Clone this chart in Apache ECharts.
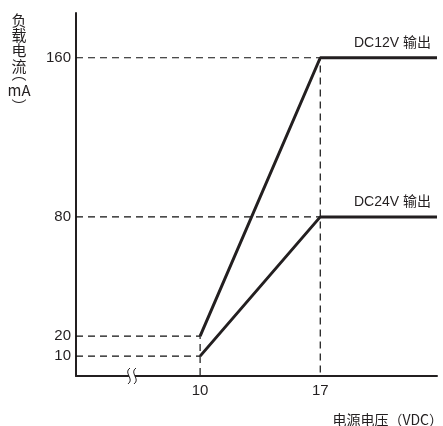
<!DOCTYPE html>
<html>
<head>
<meta charset="utf-8">
<script src="https://cdn.jsdelivr.net/npm/echarts@6/dist/echarts.min.js"></script>
<style>
  html, body { margin: 0; padding: 0; background: #fff; }
  #chart { width: 443px; height: 426px; }
</style>
</head>
<body>
<div id="chart"></div>
<script>
// data
const dc12Voltage = [10, 17, 23.8];
const dc12Current = [20, 160, 160];
const dc24Voltage = [10, 17, 23.8];
const dc24Current = [10, 80, 80];
const xTicks = [10, 17];
const yTicks = [10, 20, 80, 160];
const seriesNames = ['DC12V 输出', 'DC24V 输出'];

// dashed guide lines: [x, y] pairs
const guides = [
  [[2.77, 160], [17, 160], [17, 0]],
  [[2.77, 80], [17, 80]],
  [[2.77, 20], [10, 20], [10, 0]],
  [[2.77, 10], [10, 10]]
];

const ink = '#231f20';
const latin = 'Liberation Sans';
const cjk = 'Noto Sans CJK SC';

const chart = echarts.init(document.getElementById('chart'));

function pairs(xs, ys) {
  return xs.map((x, i) => [x, ys[i]]);
}

const guideSeries = guides.map(g => ({
  type: 'line',
  data: g,
  symbol: 'none',
  silent: true,
  z: 1,
  lineStyle: { color: '#111', width: 1.2, type: [7, 5] }
}));

function mainSeries(name, xs, ys) {
  return {
    type: 'line',
    name: name,
    data: pairs(xs, ys),
    symbol: 'none',
    z: 3,
    clip: false,
    lineStyle: { color: ink, width: 3 },
    endLabel: {
      show: true, formatter: name, color: ink, fontSize: 14,
      fontFamily: latin + ', ' + cjk,
      align: 'right', verticalAlign: 'bottom', offset: [-14, -8]
    }
  };
}

chart.setOption({
  animation: false,
  grid: { left: 76, top: 13, right: 6, bottom: 50, outerBoundsMode: 'none', containLabel: false },
  xAxis: {
    type: 'value',
    min: 2.77,
    max: 23.8,
    splitLine: { show: false },
    axisLine: { lineStyle: { color: ink, width: 2 } },
    axisTick: { show: false },
    axisLabel: {
      customValues: xTicks, color: ink, fontSize: 15, fontFamily: latin, margin: 7
    },
    name: '电源电压（VDC）',
    nameLocation: 'end',
    nameGap: 6,
    nameTextStyle: {
      color: ink, fontSize: 14, fontFamily: cjk,
      align: 'right', verticalAlign: 'top', padding: [37, 0, 0, 0]
    }
  },
  yAxis: {
    type: 'value',
    min: 0,
    max: 182.5,
    splitLine: { show: false },
    axisLine: { lineStyle: { color: ink, width: 2 } },
    axisTick: { show: false },
    axisLabel: {
      customValues: yTicks, color: ink, fontSize: 15, fontFamily: latin, margin: 5
    }
  },
  series: guideSeries.concat([
    mainSeries(seriesNames[0], dc12Voltage, dc12Current),
    mainSeries(seriesNames[1], dc24Voltage, dc24Current)
  ])
});

// axis break mark and vertical y-axis title
const brk = chart.convertToPixel({ gridIndex: 0 }, [6.03, 0]);
function squiggle(dx) {
  return {
    type: 'bezierCurve', x: brk[0] + dx, y: brk[1], z: 11,
    shape: { x1: 1, y1: -8, cpx1: -6, cpy1: -3, cpx2: 6, cpy2: 3, x2: -1, y2: 8 },
    style: { fill: 'none', stroke: ink, lineWidth: 1 }
  };
}
function titlePart(text, y) {
  return {
    type: 'text', x: 19, y: y,
    style: {
      text: text, fill: ink, fontSize: 15, fontFamily: cjk,
      align: 'center', verticalAlign: 'middle', lineHeight: 15.3
    }
  };
}
chart.setOption({
  graphic: [
    {
      type: 'rect', x: brk[0] - 3, y: brk[1] - 2, z: 10,
      shape: { width: 6, height: 4 }, style: { fill: '#fff' }
    },
    squiggle(-3),
    squiggle(3),
    titlePart('负\n载\n电\n流', 43),
    titlePart('︵', 73),
    titlePart('mA', 90),
    titlePart('︶', 106)
  ]
});
</script>
</body>
</html>
